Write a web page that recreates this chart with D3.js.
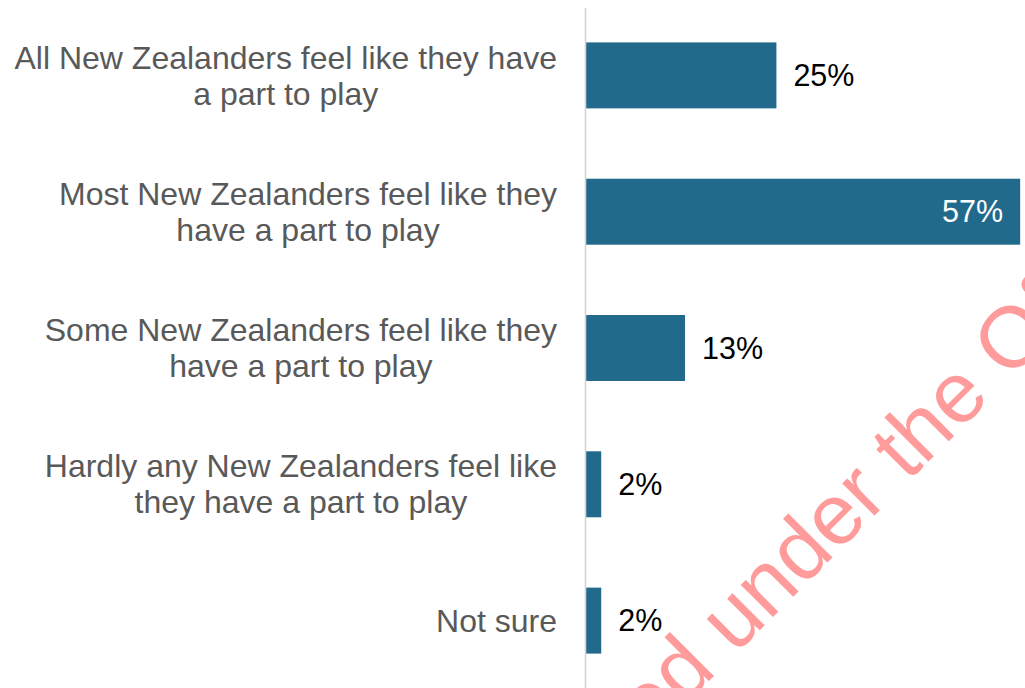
<!DOCTYPE html>
<html>
<head>
<meta charset="utf-8">
<script src="https://cdn.jsdelivr.net/npm/d3@7"></script>
<style>
  html, body { margin: 0; padding: 0; background: #fff; }
  svg { display: block; }
</style>
</head>
<body>
<svg id="chart" width="1025" height="688"></svg>
<script>
// Survey responses: how many New Zealanders feel they have a part to play
const categories = [
  "All New Zealanders feel like they have a part to play",
  "Most New Zealanders feel like they have a part to play",
  "Some New Zealanders feel like they have a part to play",
  "Hardly any New Zealanders feel like they have a part to play",
  "Not sure"
];
const categoryLines = [
  ["All New Zealanders feel like they have", "a part to play"],
  ["Most New Zealanders feel like they", "have a part to play"],
  ["Some New Zealanders feel like they", "have a part to play"],
  ["Hardly any New Zealanders feel like", "they have a part to play"],
  ["Not sure"]
];
const values = [25, 57, 13, 2, 2];
const valueLabels = ["25%", "57%", "13%", "2%", "2%"];
const stampText = "Released under the Official Information Act";

const W = 1025, H = 688;
const svg = d3.select("#chart");
const font = "'Liberation Sans', Arial, sans-serif";

const x = d3.scaleLinear().domain([0, 60]).range([586, 1043]);
const y = d3.scaleBand().domain(categories).range([8, 688])
  .paddingInner(0.516).paddingOuter(0.2525);

// Bars
svg.append("g").selectAll("rect")
  .data(categories)
  .join("rect")
  .attr("x", x(0))
  .attr("y", d => y(d))
  .attr("width", (d, i) => x(values[i]) - x(0))
  .attr("height", y.bandwidth())
  .attr("fill", "#216a8b");

// Vertical category axis line
svg.append("line")
  .attr("x1", x(0) - 0.5).attr("x2", x(0) - 0.5)
  .attr("y1", y.range()[0]).attr("y2", y.range()[1])
  .attr("stroke", "#d4d4d4").attr("stroke-width", 1.6);

// Category labels: block right-aligned to the axis, lines centred in the block
const labelRight = 557;
const lineGap = 36;
const labels = svg.append("g")
  .attr("font-family", font).attr("font-size", 32).attr("fill", "#595959");
categories.forEach((c, i) => {
  const lines = categoryLines[i];
  const cy = y(c) + y.bandwidth() / 2;
  const t = labels.append("text").attr("text-anchor", "middle");
  lines.forEach((ln, j) => {
    t.append("tspan")
      .attr("y", cy + (j - (lines.length - 1) / 2) * lineGap)
      .attr("dy", "0.35em")
      .text(ln);
  });
  let maxW = 0;
  t.selectAll("tspan").each(function () {
    maxW = Math.max(maxW, this.getComputedTextLength());
  });
  t.selectAll("tspan").attr("x", labelRight - maxW / 2);
});

// Value labels: inside the bar when it is long enough, otherwise just past its end
const inside = v => v > 50;
svg.append("g")
  .attr("font-family", font).attr("font-size", 30.5)
  .selectAll("text")
  .data(categories)
  .join("text")
  .attr("x", (d, i) => inside(values[i]) ? x(values[i]) - 17 : x(values[i]) + 17)
  .attr("y", d => y(d) + y.bandwidth() / 2)
  .attr("dy", "0.35em")
  .attr("text-anchor", (d, i) => inside(values[i]) ? "end" : "start")
  .attr("fill", (d, i) => inside(values[i]) ? "#ffffff" : "#000000")
  .text((d, i) => valueLabels[i]);

// Diagonal release stamp
const stamp = svg.append("text")
  .attr("font-family", font).attr("font-size", 86)
  .attr("fill", "#ff9b9b")
  .text(stampText);
const lead = stamp.node().getSubStringLength(0, stampText.indexOf("under"));
const ang = -45 * Math.PI / 180;
const ux = 735, uy = 655;
const sx = ux - lead * Math.cos(ang), sy = uy - lead * Math.sin(ang);
stamp.attr("transform", `translate(${sx},${sy}) rotate(-45)`);
</script>
</body>
</html>
